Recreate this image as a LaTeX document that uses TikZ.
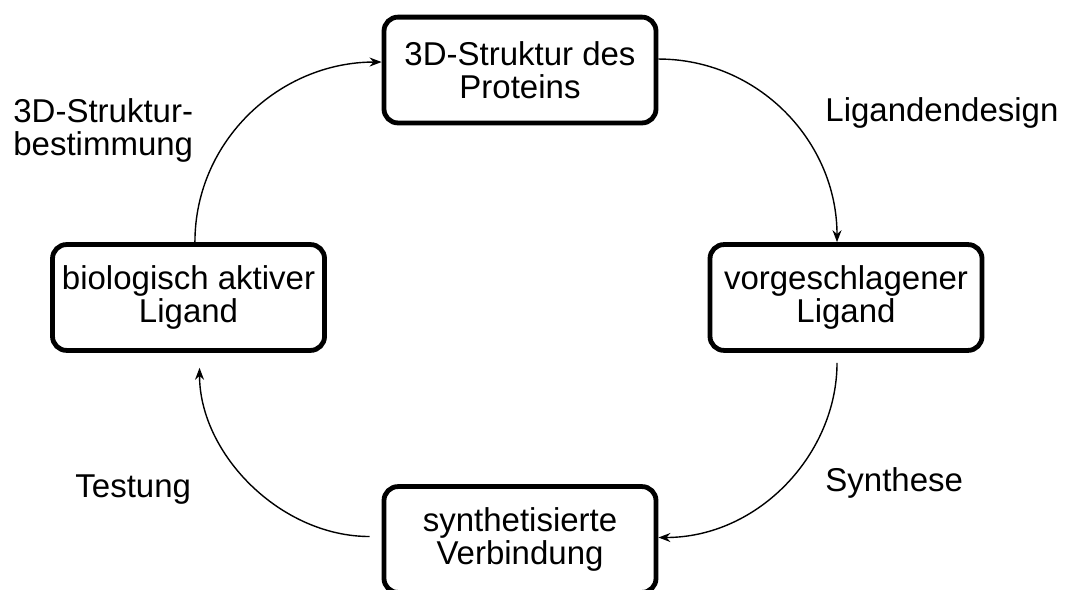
\documentclass[tikz,border=0pt]{standalone}
\usepackage{fontspec}
\setmainfont{Liberation Sans}
\usepackage{tikz}
\usetikzlibrary{positioning,arrows.meta}

\begin{document}
\begin{tikzpicture}[font=\fontsize{16.5}{16.8}\selectfont,
                    box/.style={draw,line width=2.4pt,rounded corners=7pt,align=center,
                                minimum width=4.78cm,minimum height=1.86cm,inner sep=2pt},
                    pfeil/.style={line width=0.7pt,-{Stealth[length=6pt,width=4.5pt]}},
                    label text/.style={inner sep=0pt}]
  \useasboundingbox (0,0) rectangle (18.733,10.351);
  % the four stations of the cycle
  \node[box] (protein) at (9.138,9.120) {3D-Struktur des\\Proteins};
  \node[box] (vorschlag) at (14.867,5.123) {vorgeschlagener\\Ligand};
  \node[box] (synthese) at (9.138,0.87) {synthetisierte\\Verbindung};
  \node[box] (aktiv) at (3.313,5.123) {biologisch aktiver\\Ligand};
  % step names beside the arcs
  \node[label text,anchor=base west] (design) at (14.498,8.224) {Ligandendesign};
  \node[label text,anchor=base west] (synth) at (14.498,1.705) {Synthese};
  \node[label text,anchor=base west] (test) at (1.318,1.617) {Testung};
  \node[label text,anchor=north west,align=left] (bestimm) at (0.228,8.628) {3D-Struktur-\\bestimmung};
  \path[pfeil]%
    ([xshift=3.2pt]aktiv.north) edge[out=90,in=180] ([yshift=4pt]protein.west)
    ([yshift=5.5pt]protein.east) edge[out=0,in=90] ([xshift=-4.5pt]vorschlag.north)
    ([xshift=-4.5pt]vorschlag.south) edge[out=-90,in=0,shorten <=5pt] ([yshift=1pt]synthese.east)
    ([yshift=1.5pt]synthese.west) edge[out=180,in=-90,shorten <=6pt,shorten >=7.5pt] ([xshift=5.5pt]aktiv.south);
\end{tikzpicture}
\end{document}
